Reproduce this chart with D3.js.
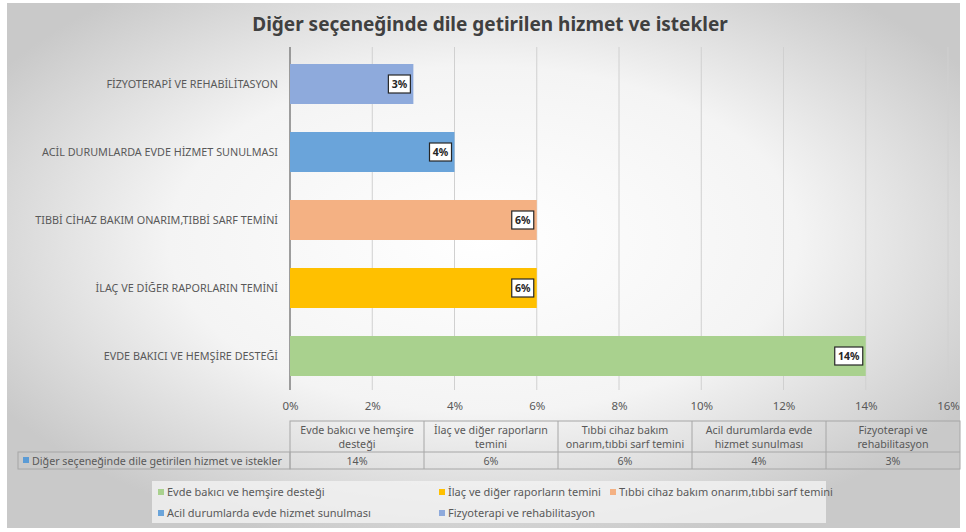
<!DOCTYPE html>
<html>
<head>
  <meta charset="UTF-8">
  <script src="https://cdn.jsdelivr.net/npm/d3@7/dist/d3.min.js"></script>
  <style>
    body { margin:0; background:#fff; }
    svg { display:block; font-family:"Noto Sans", "Open Sans", sans-serif; }
  </style>
</head>
<body>
<svg id="chart" width="966" height="532"></svg>
<script>
// data, bottom-to-top as in the workbook
var categories = ["Evde bakıcı ve hemşire desteği", "İlaç ve diğer raporların temini",
  "Tıbbi cihaz bakım onarım,tıbbi sarf temini", "Acil durumlarda evde hizmet sunulması",
  "Fizyoterapi ve rehabilitasyon"];
var axisLabels = ["EVDE BAKICI VE HEMŞİRE DESTEĞİ", "İLAÇ VE DİĞER RAPORLARIN TEMİNİ",
  "TIBBİ CİHAZ BAKIM ONARIM,TIBBİ SARF TEMİNİ", "ACİL DURUMLARDA EVDE HİZMET SUNULMASI",
  "FİZYOTERAPİ VE REHABİLİTASYON"];
var tableHeaders = [["Evde bakıcı ve hemşire", "desteği"], ["İlaç ve diğer raporların", "temini"],
  ["Tıbbi cihaz bakım", "onarım,tıbbi sarf temini"], ["Acil durumlarda evde", "hizmet sunulması"],
  ["Fizyoterapi ve", "rehabilitasyon"]];
var values = [0.14, 0.06, 0.06, 0.04, 0.03];
var colors = ["#a9d18e", "#ffc000", "#f4b183", "#6aa4da", "#8eaadc"];
var xTicks = [0, 0.02, 0.04, 0.06, 0.08, 0.10, 0.12, 0.14, 0.16];
var seriesName = "Diğer seçeneğinde dile getirilen hizmet ve istekler";

var svg = d3.select("#chart");
var pct = d3.format(".0%");
var txt = "#595959";

// background: grey edges, white middle
var defs = svg.append("defs");
var grad = defs.append("radialGradient").attr("id", "bg")
  .attr("cx", "50%").attr("cy", "45%").attr("r", "60%");
grad.append("stop").attr("offset", "0%").attr("stop-color", "#ffffff");
grad.append("stop").attr("offset", "55%").attr("stop-color", "#f4f4f4");
grad.append("stop").attr("offset", "100%").attr("stop-color", "#c9c9c9");
svg.append("rect").attr("x", 7).attr("y", 3).attr("width", 953).attr("height", 525)
  .attr("fill", "url(#bg)");

svg.append("text").attr("x", 490).attr("y", 31).attr("text-anchor", "middle")
  .attr("font-size", 19).attr("font-weight", "bold").attr("fill", "#404040")
  .attr("font-stretch", "condensed")
  .text(seriesName);

var x = d3.scaleLinear().domain([0, 0.16]).range([290, 948]);
var y = d3.scaleBand().domain(d3.range(categories.length).reverse())
  .range([50, 390]).paddingInner(28 / 68).paddingOuter(14 / 68);

// grid
svg.append("g").selectAll("line").data(xTicks).join("line")
  .attr("x1", d => x(d)).attr("x2", d => x(d))
  .attr("y1", 47).attr("y2", 390)
  .attr("stroke", d => d === 0 ? "#7f7f7f" : "#d0d0d0")
  .attr("stroke-width", d => d === 0 ? 1.5 : 1);

var xAxis = svg.append("g").attr("transform", "translate(0,390)")
  .call(d3.axisBottom(x).tickValues(xTicks).tickFormat(pct).tickSize(0).tickPadding(12));
xAxis.select(".domain").remove();
xAxis.selectAll("text").attr("fill", txt).attr("font-size", 11.5)
  .attr("font-family", "Noto Sans");

// category labels
svg.append("g").selectAll("text").data(d3.range(categories.length)).join("text")
  .attr("x", 278).attr("y", i => y(i) + y.bandwidth() / 2)
  .attr("dy", "0.35em").attr("text-anchor", "end")
  .attr("font-size", 10.8).attr("fill", txt)
  .text(i => axisLabels[i]);

// bars
svg.append("g").selectAll("rect").data(values).join("rect")
  .attr("x", x(0)).attr("y", (d, i) => y(i))
  .attr("width", d => x(d) - x(0)).attr("height", y.bandwidth())
  .attr("fill", (d, i) => colors[i]);

// value labels
var lab = svg.append("g").selectAll("g").data(values).join("g")
  .attr("transform", (d, i) => "translate(" + (x(d) - 2) + "," + (y(i) + y.bandwidth() / 2) + ")");
lab.append("rect").attr("x", d => d >= 0.1 ? -29 : -23).attr("y", -9)
  .attr("width", d => d >= 0.1 ? 28 : 22).attr("height", 18)
  .attr("fill", "#fff").attr("stroke", "#262626").attr("stroke-width", 1.2);
lab.append("text").attr("x", d => d >= 0.1 ? -15 : -12).attr("dy", "0.35em")
  .attr("text-anchor", "middle").attr("font-size", 10.5).attr("font-weight", "bold")
  .attr("fill", "#262626").text(d => pct(d));

// data table
var tb = svg.append("g");
var colW = (960 - 290) / categories.length;
var tTop = 421, tMid = 452, tBot = 469;
var border = "#a6a6a6";
tb.append("rect").attr("x", 290).attr("y", tTop).attr("width", 670).attr("height", tBot - tTop)
  .attr("fill", "none").attr("stroke", border);
tb.append("rect").attr("x", 18).attr("y", tMid).attr("width", 272).attr("height", tBot - tMid)
  .attr("fill", "none").attr("stroke", border);
tb.append("line").attr("x1", 290).attr("x2", 960).attr("y1", tMid).attr("y2", tMid).attr("stroke", border);
tb.selectAll(".vl").data(d3.range(1, categories.length)).join("line")
  .attr("x1", i => 290 + i * colW).attr("x2", i => 290 + i * colW)
  .attr("y1", tTop).attr("y2", tBot).attr("stroke", border);
tableHeaders.forEach(function(lines, i) {
  var t = tb.append("text").attr("x", 290 + (i + 0.5) * colW).attr("y", tTop + 13)
    .attr("text-anchor", "middle").attr("font-size", 10.7).attr("fill", txt);
  lines.forEach(function(l, k) {
    t.append("tspan").attr("x", 290 + (i + 0.5) * colW).attr("dy", k ? 14 : 0).text(l);
  });
  tb.append("text").attr("x", 290 + (i + 0.5) * colW).attr("y", tMid + 12.5)
    .attr("text-anchor", "middle").attr("font-size", 10.7).attr("fill", txt).text(pct(values[i]));
});
tb.append("rect").attr("x", 23).attr("y", tMid + 5).attr("width", 6).attr("height", 6).attr("fill", "#5b9bd5");
tb.append("text").attr("x", 32).attr("y", tMid + 12.5).attr("font-size", 10.7).attr("fill", txt)
  .text(seriesName);

// legend
var lg = svg.append("g");
lg.append("rect").attr("x", 152).attr("y", 481).attr("width", 674).attr("height", 42)
  .attr("fill", "#f2f2f2").attr("opacity", 0.8);
var legX = [158, 439, 610, 158, 439];
var legY = [492, 492, 492, 513, 513];
var items = lg.selectAll("g").data(categories).join("g")
  .attr("transform", (d, i) => "translate(" + legX[i] + "," + legY[i] + ")");
items.append("rect").attr("x", 0).attr("y", -3).attr("width", 6).attr("height", 6)
  .attr("fill", (d, i) => colors[i]);
items.append("text").attr("x", 9).attr("dy", "0.35em").attr("font-size", 11)
  .attr("fill", txt).text(d => d);
</script>
</body>
</html>
